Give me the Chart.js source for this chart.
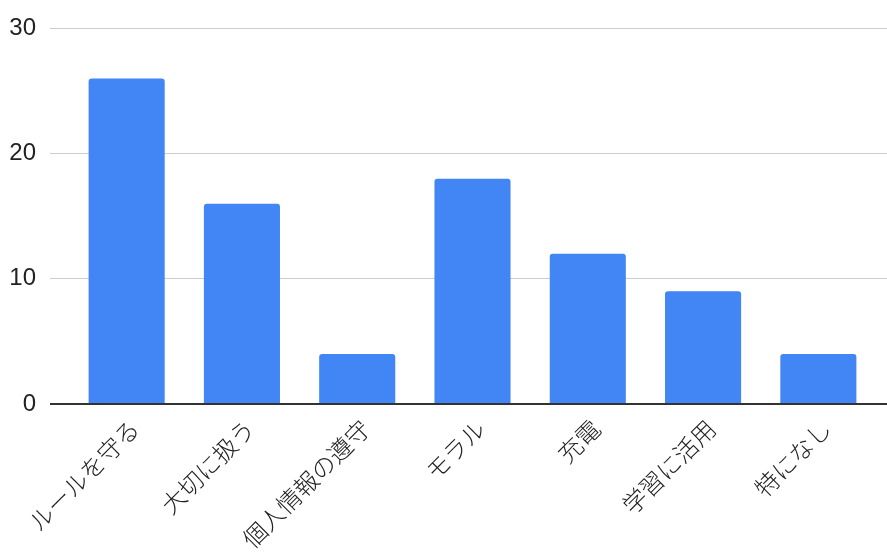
<!DOCTYPE html>
<html>
<head>
<meta charset="utf-8">
<script src="https://cdn.jsdelivr.net/npm/chart.js@4/dist/chart.umd.min.js"></script>
<style>
  html, body { margin: 0; padding: 0; background: #fff; }
  #wrap { width: 887px; height: 557px; }
</style>
</head>
<body>
<div id="wrap"><canvas id="myChart"></canvas></div>
<script>
const categories = ['ルールを守る', '大切に扱う', '個人情報の遵守', 'モラル', '充電', '学習に活用', '特になし'];
const counts = [26, 16, 4, 18, 12, 9, 4];
const yTicks = [0, 10, 20, 30];

const FONT = "'Liberation Sans', 'Noto Sans CJK JP', sans-serif";

// baseline at zero is dark, the rest light grey
function gridColor(ctx) {
    return ctx.tick && ctx.tick.value === 0 ? '#333333' : '#cccccc';
}
function gridWidth(ctx) {
    return ctx.tick && ctx.tick.value === 0 ? 2 : 1;
}

const ctx = document.getElementById('myChart').getContext('2d');
const myChart = new Chart(ctx, {
    type: 'bar',
    data: {
        labels: categories,
        datasets: [{
            data: counts,
            backgroundColor: '#4285f4',
            borderWidth: 0,
            borderRadius: 3,
            barPercentage: 0.66,
            categoryPercentage: 1
        }]
    },
    options: {
        responsive: true,
        maintainAspectRatio: false,
        animation: false,
        layout: { padding: { top: 27, right: 0, bottom: 0, left: 0 } },
        plugins: {
            legend: { display: false },
            tooltip: { enabled: false }
        },
        scales: {
            x: {
                grid: { display: false },
                border: { display: false },
                ticks: {
                    color: '#222',
                    font: { family: FONT, size: 24, weight: 300 },
                    maxRotation: 45,
                    minRotation: 45,
                    autoSkip: false,
                    padding: 4,
                    labelOffset: 10
                },
                afterFit: s => { s.height = 153; }
            },
            y: {
                min: 0,
                max: 30,
                afterBuildTicks: s => { s.ticks = yTicks.map(v => ({ value: v })); },
                grid: { color: gridColor, lineWidth: gridWidth, tickLength: 19 },
                border: { display: false },
                ticks: {
                    color: '#222',
                    font: { family: FONT, size: 24 },
                    padding: 14
                },
                afterFit: s => { s.width = 69; }
            },
            yRight: {
                position: 'right',
                min: 0,
                max: 30,
                afterBuildTicks: s => { s.ticks = yTicks.map(v => ({ value: v })); },
                grid: { color: gridColor, lineWidth: gridWidth, tickLength: 11, drawOnChartArea: false },
                border: { display: false },
                ticks: { display: false },
                afterFit: s => { s.width = 11; }
            }
        }
    }
});
</script>
</body>
</html>
